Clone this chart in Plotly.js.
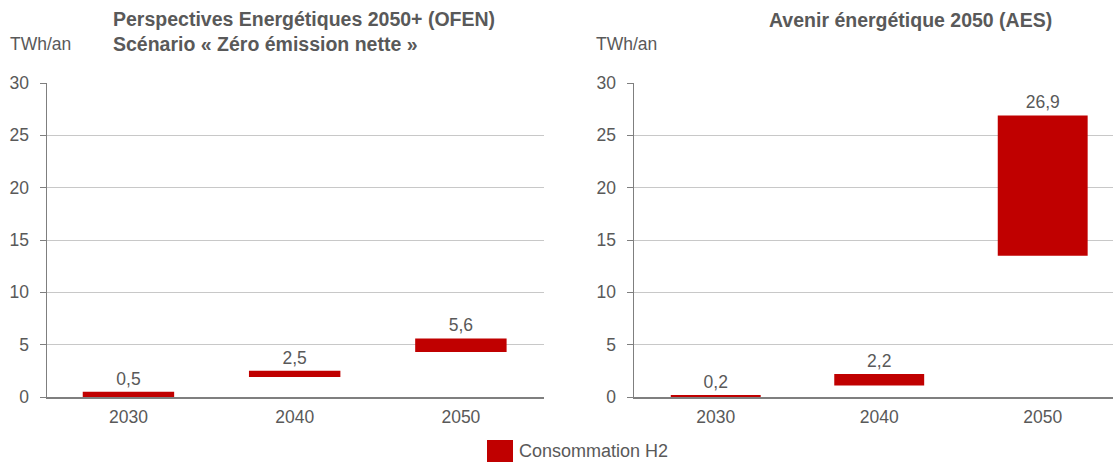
<!DOCTYPE html>
<html>
<head>
<meta charset="utf-8">
<script src="https://cdn.plot.ly/plotly-3.0.1.min.js"></script>
<style>
  html, body { margin: 0; padding: 0; background: #fff; }
  #chart { width: 1113px; height: 462px; }
</style>
</head>
<body>
<div id="chart"></div>
<script>
// Hydrogen consumption ranges (TWh/an): each bar spans from the low to the high estimate
const years = ['2030', '2040', '2050'];
const ofenLow = [0, 1.9, 4.3];
const ofenHigh = [0.5, 2.5, 5.6];
const aesLow = [0, 1.1, 13.5];
const aesHigh = [0.2, 2.2, 26.9];
const yTicks = [0, 5, 10, 15, 20, 25, 30];

const W = 1113, H = 462;
const RED = '#c00000';
const GREY_TEXT = '#595959';
const FONT = 'Liberation Sans, Arial, sans-serif';
const TXT = 17.5;   // body text size
const TTL = 19.5;   // panel title size

function rangeBar(low, high, xa, ya) {
  return {
    type: 'bar',
    x: years,
    base: low,
    y: high.map((h, i) => h - low[i]),
    customdata: high,
    texttemplate: '%{customdata:.1f}',
    textposition: 'outside',
    textfont: { family: FONT, size: TXT, color: GREY_TEXT },
    cliponaxis: false,
    marker: { color: RED, line: { width: 0 } },
    xaxis: xa, yaxis: ya,
    hoverinfo: 'skip',
    showlegend: false
  };
}

const px = v => v / W;      // horizontal pixel -> paper
const py = v => 1 - v / H;  // vertical pixel -> paper

const yAxisBase = {
  range: [0, 30],
  tickvals: yTicks,
  showgrid: true,
  gridcolor: '#c8c8c8',
  gridwidth: 1,
  showline: true,
  linecolor: '#7f7f7f',
  linewidth: 1.5,
  ticks: 'outside',
  ticklen: 6,
  tickcolor: '#7f7f7f',
  tickfont: { family: FONT, size: TXT, color: GREY_TEXT },
  ticklabelstandoff: 7,
  zeroline: false,
  fixedrange: true,
  domain: [py(397), py(83)]
};

const xAxisBase = {
  type: 'category',
  showline: true,
  linecolor: '#7f7f7f',
  linewidth: 1.5,
  ticks: '',
  showgrid: false,
  tickfont: { family: FONT, size: TXT, color: GREY_TEXT },
  ticklabelstandoff: 3,
  fixedrange: true
};

const layout = {
  width: W, height: H,
  margin: { l: 0, r: 0, t: 0, b: 0 },
  paper_bgcolor: '#fff',
  plot_bgcolor: '#fff',
  separators: ',.',
  bargap: 0.45,
  showlegend: false,
  xaxis: Object.assign({}, xAxisBase, { domain: [px(47), px(544)], range: [-0.49, 2.5], anchor: 'y' }),
  yaxis: Object.assign({}, yAxisBase, { anchor: 'x' }),
  xaxis2: Object.assign({}, xAxisBase, { domain: [px(634), 1], range: [-0.5, 2.43], anchor: 'y2' }),
  yaxis2: Object.assign({}, yAxisBase, { anchor: 'x2' }),
  annotations: [
    { text: '<b>Perspectives Energétiques 2050+ (OFEN)</b><br><b>Scénario « Zéro émission nette »</b>',
      xref: 'paper', yref: 'paper', x: px(111), y: py(6), xanchor: 'left', yanchor: 'top',
      align: 'left', showarrow: false, font: { family: FONT, size: TTL, color: GREY_TEXT } },
    { text: '<b>Avenir énergétique 2050 (AES)</b>',
      xref: 'paper', yref: 'paper', x: px(911), y: py(20), xanchor: 'center', yanchor: 'middle',
      showarrow: false, font: { family: FONT, size: TTL, color: GREY_TEXT } },
    { text: 'TWh/an', xref: 'paper', yref: 'paper', x: px(8), y: py(44), xanchor: 'left', yanchor: 'middle',
      showarrow: false, font: { family: FONT, size: TXT, color: GREY_TEXT } },
    { text: 'TWh/an', xref: 'paper', yref: 'paper', x: px(594), y: py(44), xanchor: 'left', yanchor: 'middle',
      showarrow: false, font: { family: FONT, size: TXT, color: GREY_TEXT } },
    { text: 'Consommation H2', xref: 'paper', yref: 'paper', x: px(518), y: 0, xanchor: 'left', yanchor: 'bottom',
      showarrow: false, borderpad: 0, font: { family: FONT, size: 18, color: GREY_TEXT } }
  ],
  shapes: [
    // legend swatch
    { type: 'rect', xref: 'paper', yref: 'paper', x0: px(487), x1: px(513), y0: py(466), y1: py(440),
      fillcolor: RED, line: { width: 0 } }
  ]
};

Plotly.newPlot('chart', [
  rangeBar(ofenLow, ofenHigh, 'x', 'y'),
  rangeBar(aesLow, aesHigh, 'x2', 'y2')
], layout, { staticPlot: true, displayModeBar: false });
</script>
</body>
</html>
